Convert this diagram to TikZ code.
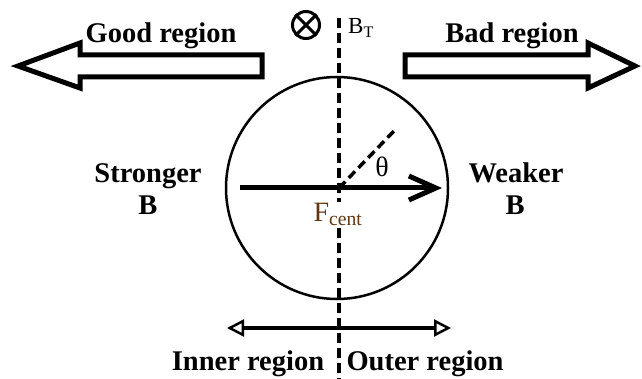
\documentclass[tikz,border=0pt]{standalone}
\usepackage{fontspec}
\setmainfont{Liberation Serif}
\usetikzlibrary{arrows.meta}
\definecolor{fbrown}{RGB}{95,55,20}
\begin{document}
\begin{tikzpicture}[x=1pt,y=-1pt,
  lbl/.style={font=\fontsize{28.5}{30}\selectfont\bfseries, inner sep=0pt, anchor=base},
  plainlbl/.style={font=\fontsize{28}{30}\selectfont, inner sep=0pt, anchor=base},
  blockarrow/.style={draw, line width=5pt, miter limit=10, fill=white},
  axisline/.style={line width=3.5pt, dash pattern=on 10pt off 5pt},
  thickarrow/.style={line width=5pt, -{Straight Barb[length=27pt,width=24pt]}},
  rangearrow/.style={line width=3.5pt, {Triangle[open,length=17pt,width=17pt,line width=2.5pt]}-{Triangle[open,length=17pt,width=17pt,line width=2.5pt]}}
]
\useasboundingbox (0,0) rectangle (642,379);
% block arrows
\draw[blockarrow] (262,55) -- (80,55) -- (80,43) -- (18,66) -- (80,88) -- (80,77) -- (262,77) -- cycle;
\draw[blockarrow] (405,55) -- (588,55) -- (588,43) -- (635,66) -- (588,88) -- (588,77) -- (405,77) -- cycle;
\node[lbl] (good) at (161,43) {Good region};
\node[lbl] (bad) at (512,43) {Bad region};
% circle
\node[circle, draw, line width=2.5pt, minimum size=222pt, inner sep=0pt] (circ) at (337,188) {};
% vertical axis
\coordinate (vtop) at (339,18);
\coordinate (vbot) at (339,379);
\draw[axisline] (vtop) -- (vbot);
% B_T symbol
\node[circle, draw, line width=3pt, minimum size=27pt, inner sep=0pt] (otimes) at (306,25) {};
\draw[line width=3pt] (otimes.north west) -- (otimes.south east);
\draw[line width=3pt] (otimes.north east) -- (otimes.south west);
\node[font=\fontsize{23}{26}\selectfont, inner sep=0pt, anchor=base west] (bt) at (348,34) {B\textsubscript{T}};
% force arrow
\coordinate (c) at (339,188);
\coordinate (fs) at (240,188);
\coordinate (fe) at (442,188);
\draw[thickarrow] (fs) -- (fe);
\coordinate (d) at (394,131);
\draw[line width=3.5pt, dash pattern=on 9pt off 5pt] (c) -- (d);
\node[plainlbl] (theta) at (382,177) {θ};
\node[plainlbl, text=fbrown, fill=white, inner sep=2pt] (fcent) at (338,222) {F\textsubscript{cent}};
% side labels
\node[lbl] (strong) at (148,183) {Stronger};
\node[lbl] (strongB) at (148,215) {B};
\node[lbl] (weak) at (516,183) {Weaker};
\node[lbl] (weakB) at (515,215) {B};
% inner/outer
\coordinate (bl) at (227,328);
\coordinate (br) at (451,328);
\draw[rangearrow] (bl) -- (br);
\node[lbl] (inner) at (248,370) {Inner region};
\node[lbl] (outer) at (425,370) {Outer region};
\end{tikzpicture}
\end{document}
